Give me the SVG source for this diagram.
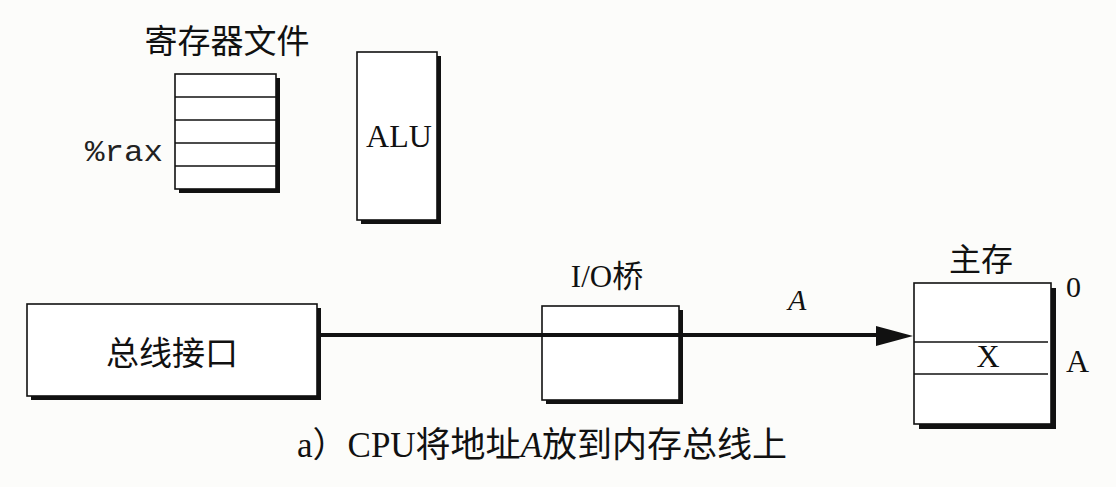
<svg xmlns="http://www.w3.org/2000/svg" width="1116" height="487" viewBox="0 0 1116 487">
<style>
.box{fill:#fff;stroke:#111;stroke-width:1.6}
.sh{fill:#111}
.ln{stroke:#111;stroke-width:1.6;fill:none}
.cjk{font-family:"Liberation Serif","Noto Sans CJK SC",serif;fill:#111}
.ser{font-family:"Liberation Serif",serif;fill:#111}
.mono{font-family:"Liberation Mono",monospace;fill:#222}
</style>
<rect width="1116" height="487" fill="#fcfcfa"/>
<g id="regfile">
<text class="cjk" x="227" y="53" font-size="33" text-anchor="middle">寄存器文件</text>
<rect class="sh" x="179" y="78" width="101" height="115"/>
<rect class="box" x="175" y="74" width="101" height="115"/>
<line class="ln" x1="175" y1="97" x2="276" y2="97"/>
<line class="ln" x1="175" y1="120" x2="276" y2="120"/>
<line class="ln" x1="175" y1="143" x2="276" y2="143"/>
<line class="ln" x1="175" y1="166" x2="276" y2="166"/>
<text class="mono" x="85" y="161" font-size="30" textLength="78" lengthAdjust="spacingAndGlyphs">%rax</text>
</g>
<g id="alu">
<rect class="sh" x="361" y="56" width="80" height="168"/>
<rect class="box" x="357" y="52" width="80" height="168"/>
<text class="ser" x="399" y="147" font-size="32" text-anchor="middle">ALU</text>
</g>
<g id="businterface">
<rect class="sh" x="31" y="308" width="290" height="92"/>
<rect class="box" x="27" y="304" width="290" height="92"/>
<text class="cjk" x="172" y="365" font-size="33" text-anchor="middle">总线接口</text>
</g>
<g id="iobridge">
<text class="cjk" x="607" y="287" font-size="31" text-anchor="middle">I/O桥</text>
<rect class="sh" x="546" y="310" width="137" height="94"/>
<rect class="box" x="542" y="306" width="137" height="94"/>
</g>
<g id="mainmemory">
<text class="cjk" x="981" y="271" font-size="32" text-anchor="middle">主存</text>
<rect class="sh" x="919" y="288" width="137" height="141"/>
<rect class="box" x="914" y="283" width="137" height="141"/>
<line class="ln" x1="914" y1="342" x2="1048" y2="342"/>
<line class="ln" x1="914" y1="374" x2="1048" y2="374"/>
<text class="ser" x="988" y="367" font-size="32" text-anchor="middle">X</text>
<text class="ser" x="1066" y="297" font-size="30">0</text>
<text class="ser" x="1066" y="372" font-size="32">A</text>
</g>
<g id="connectors">
<line x1="317" y1="335" x2="880" y2="335" stroke="#111" stroke-width="4"/>
<polygon points="913,336 876,326 876,346" fill="#111"/>
<text class="ser" x="788" y="310" font-size="30" font-style="italic">A</text>
</g>
<text class="cjk" x="297" y="457" font-size="35">a）CPU将地址<tspan font-style="italic">A</tspan>放到内存总线上</text>
</svg>
